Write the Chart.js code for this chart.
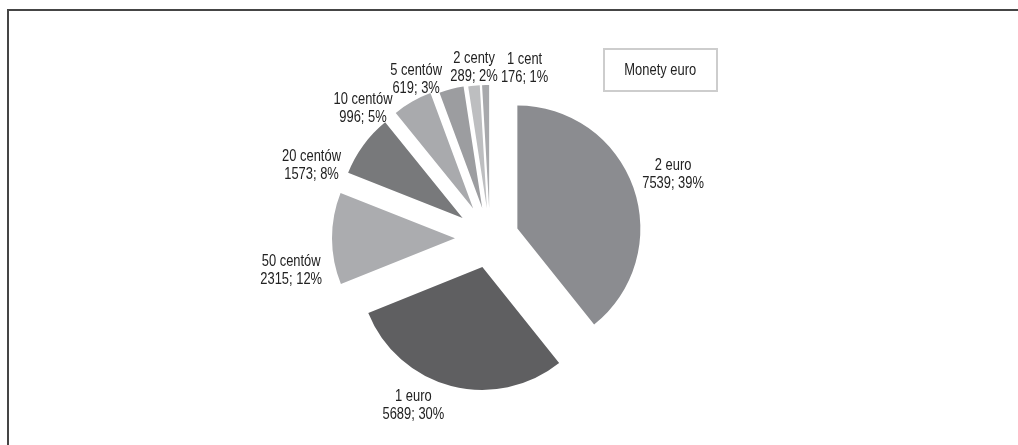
<!DOCTYPE html>
<html lang="pl">
<head>
<meta charset="utf-8">
<title>Monety euro</title>
<script src="https://cdn.jsdelivr.net/npm/chart.js@4.4.1/dist/chart.umd.min.js"></script>
<style>
    html, body {
        margin: 0;
        padding: 0;
        background: #ffffff;
    }
    .frame {
        position: absolute;
        left: 7px;
        top: 9px;
        width: 1011px;
        height: 436px;
        border-top: 2px solid #454545;
        border-left: 2px solid #454545;
    }
    .chart-box {
        position: absolute;
        left: 0;
        top: 0;
        width: 1018px;
        height: 445px;
    }
    .legend-box {
        position: absolute;
        left: 603px;
        top: 48px;
        width: 111px;
        height: 40px;
        border: 2px solid #cdcdcd;
        font-family: "Liberation Sans", Arial, sans-serif;
        font-size: 17px;
        color: #222;
        line-height: 40px;
        text-align: center;
    }
    .legend-box span {
        display: inline-block;
        transform: scaleX(0.76);
    }
</style>
</head>
<body>
<div class="frame"></div>
<div class="chart-box"><canvas id="coinChart"></canvas></div>
<div class="legend-box"><span>Monety euro</span></div>

<script>
// Liczba monet wg nominału
const nominaly = ['2 euro', '1 euro', '50 centów', '20 centów', '10 centów', '5 centów', '2 centy', '1 cent'];
const ilosci = [7539, 5689, 2315, 1573, 996, 619, 289, 176];

// Wygląd wycinków
const kolory = ['#8b8c90', '#5f5f61', '#abacaf', '#78797b', '#a9aaad', '#9c9da0', '#bdbec0', '#a8a9ac'];
const wysuniecie = [29, 30, 35, 34, 34, 31, 30, 30];   // px od środka koła
// Etykiety: odchylenie kąta (stopnie) i odstęp od łuku (px)
const etykietaKat = [0, 11.7, -11, -17, -18, -12.6, 0.8, 15.9];
const etykietaOdstep = [42, 32, 44, 37, 26, 22, 18, 21];

const FONT = '17px "Liberation Sans", Arial, sans-serif';
const ZWEZENIE = 0.76;   // tekst w poziomie węższy, jak krój condensed

// Rozsuwa wycinki wzdłuż ich dwusiecznej
const explodePlugin = {
    id: 'explode',
    afterDatasetsUpdate(chart) {
        const meta = chart.getDatasetMeta(0);
        meta.data.forEach((arc, i) => {
            const mid = (arc.startAngle + arc.endAngle) / 2;
            const d = wysuniecie[i] || 0;
            arc.x += Math.cos(mid) * d;
            arc.y += Math.sin(mid) * d;
        });
    }
};

function narrowText(ctx, text, x, y) {
    ctx.save();
    ctx.translate(x, y);
    ctx.scale(ZWEZENIE, 1);
    ctx.fillText(text, 0, 0);
    ctx.restore();
}

// Podpisy: nazwa, a pod nią wartość i procent
const labelPlugin = {
    id: 'sliceLabels',
    afterDatasetsDraw(chart) {
        const ctx = chart.ctx;
        const meta = chart.getDatasetMeta(0);
        const values = chart.data.datasets[0].data;
        const total = values.reduce((a, b) => a + b, 0);
        ctx.save();
        ctx.font = FONT;
        ctx.fillStyle = '#222222';
        ctx.textAlign = 'center';
        ctx.textBaseline = 'middle';
        meta.data.forEach((arc, i) => {
            const mid = (arc.startAngle + arc.endAngle) / 2 + etykietaKat[i] * Math.PI / 180;
            const dist = arc.outerRadius + etykietaOdstep[i];
            const x = arc.x + Math.cos(mid) * dist;
            const y = arc.y + Math.sin(mid) * dist;
            const pct = Math.round(values[i] / total * 100);
            narrowText(ctx, chart.data.labels[i], x, y - 9);
            narrowText(ctx, values[i] + '; ' + pct + '%', x, y + 9);
        });
        ctx.restore();
    }
};

const ctx = document.getElementById('coinChart').getContext('2d');
new Chart(ctx, {
    type: 'pie',
    data: {
        labels: nominaly,
        datasets: [{
            data: ilosci,
            backgroundColor: kolory,
            borderWidth: 0,
            radius: 123
        }]
    },
    options: {
        responsive: true,
        maintainAspectRatio: false,
        animation: false,
        layout: {
            padding: { left: 0, right: 38, top: 31, bottom: 0 }
        },
        plugins: {
            legend: { display: false },
            tooltip: { enabled: false }
        }
    },
    plugins: [explodePlugin, labelPlugin]
});
</script>
</body>
</html>
